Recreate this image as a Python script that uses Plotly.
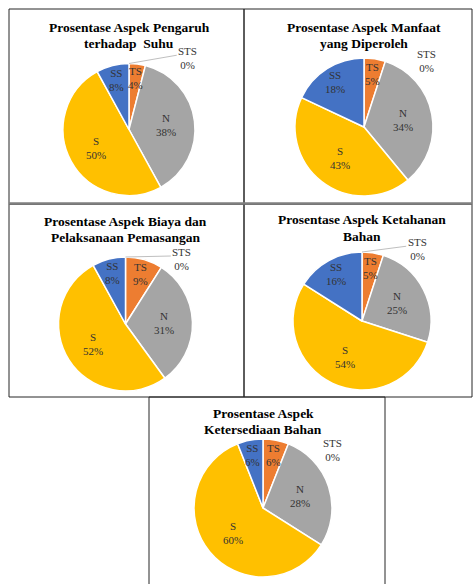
import math
import plotly.graph_objects as go

# ---------------- data ----------------
categories = ["STS", "TS", "N", "S", "SS"]
titles = [
    ["Prosentase Aspek Pengaruh", "terhadap  Suhu"],
    ["Prosentase Aspek Manfaat", "yang Diperoleh"],
    ["Prosentase Aspek Biaya dan", "Pelaksanaan Pemasangan"],
    ["Prosentase Aspek Ketahanan", "Bahan"],
    ["Prosentase Aspek", "Ketersediaan Bahan"],
]
values_suhu = [0, 4, 38, 50, 8]
values_manfaat = [0, 5, 34, 43, 18]
values_biaya = [0, 9, 31, 52, 8]
values_ketahanan = [0, 5, 25, 54, 16]
values_ketersediaan = [0, 6, 28, 60, 6]
all_values = [values_suhu, values_manfaat, values_biaya, values_ketahanan, values_ketersediaan]

# ---------------- layout / style ----------------
W, H = 473, 584
colors = ["#5B9BD5", "#ED7D31", "#A5A5A5", "#FFC000", "#4472C4"]
pie_cx = [129, 364, 125.5, 362, 263]
pie_cy = [129.5, 127, 324, 321, 508]
pie_r = [66, 69, 67, 69, 69]
title_y = [35, 35, 229.5, 228, 421.5]
title_gap = 16
sts_dx = [0.89, 0.91, 0.84, 0.80, 1.01]
sts_dy = [-1.08, -0.96, -0.97, -1.04, -0.84]
sts_leader = [True, False, True, True, False]
boxes = [(9, 9, 244, 204), (244, 9, 472, 204), (9, 204, 244, 397),
         (244, 204, 472, 397), (149, 397, 385, 600)]

def X(px):
    return px / W

def Y(py):
    return 1 - py / H

fig = go.Figure()
annotations = []
shapes = []

label_font = dict(family="Liberation Serif", size=11, color="#333333")
title_font = dict(family="Liberation Serif", size=13.5, color="#000000")

for i, vals in enumerate(all_values):
    cx, cy, r = pie_cx[i], pie_cy[i], pie_r[i]
    fig.add_trace(go.Pie(
        labels=categories, values=vals, sort=False, direction="clockwise",
        rotation=0, textinfo="none", showlegend=False, hoverinfo="label+percent",
        marker=dict(colors=colors, line=dict(color="white", width=1.5)),
        domain=dict(x=[X(cx - r), X(cx + r)], y=[Y(cy + r), Y(cy - r)]),
    ))
    total = sum(vals)
    cum = 0
    for cat, v in zip(categories, vals):
        if v > 0:
            mid = (cum + v / 2) / total
            th = 2 * math.pi * mid
            frac = 0.57 if v / total >= 0.2 else 0.78
            d = frac * r
            lx = cx + math.sin(th) * d
            ly = cy - math.cos(th) * d
            annotations.append(dict(
                x=X(lx), y=Y(ly), xref="paper", yref="paper",
                text=f"{cat}<br>{round(100 * v / total)}%", showarrow=False,
                xanchor="center", yanchor="middle", font=label_font,
            ))
        cum += v
    # zero-value STS label
    sx, sy = cx + sts_dx[i] * r, cy + sts_dy[i] * r
    annotations.append(dict(
        x=X(sx), y=Y(sy), xref="paper", yref="paper",
        text=f"{categories[0]}<br>{vals[0]}%", showarrow=False,
        xanchor="center", yanchor="middle", font=label_font,
    ))
    if sts_leader[i]:
        shapes.append(dict(type="line", xref="paper", yref="paper",
                           x0=X(cx), y0=Y(cy - r), x1=X(sx - 11), y1=Y(sy - 3),
                           line=dict(color="#BFBFBF", width=1)))
    # title (two lines)
    for k, line in enumerate(titles[i]):
        ty = title_y[i] + (k - 0.5) * title_gap
        annotations.append(dict(
            x=X(cx), y=Y(ty), xref="paper", yref="paper",
            text=f"<b>{line}</b>", showarrow=False,
            xanchor="center", yanchor="middle", font=title_font,
        ))

for (x0, y0, x1, y1) in boxes:
    shapes.append(dict(type="rect", xref="paper", yref="paper",
                       x0=X(x0), y0=Y(y1), x1=X(x1), y1=Y(y0),
                       line=dict(color="#262626", width=1), layer="below"))
shapes.append(dict(type="line", xref="paper", yref="paper",
                   x0=X(9), y0=Y(203.5), x1=X(472), y1=Y(203.5),
                   line=dict(color="#7F7F7F", width=2.5)))

fig.update_layout(
    width=W, height=H, margin=dict(l=0, r=0, t=0, b=0),
    paper_bgcolor="white", plot_bgcolor="white",
    annotations=annotations, shapes=shapes,
)
fig.write_html(
    "out.html",
    config={"displayModeBar": False},
    post_script="document.body.style.margin='0';document.body.style.overflow='hidden';",
)
